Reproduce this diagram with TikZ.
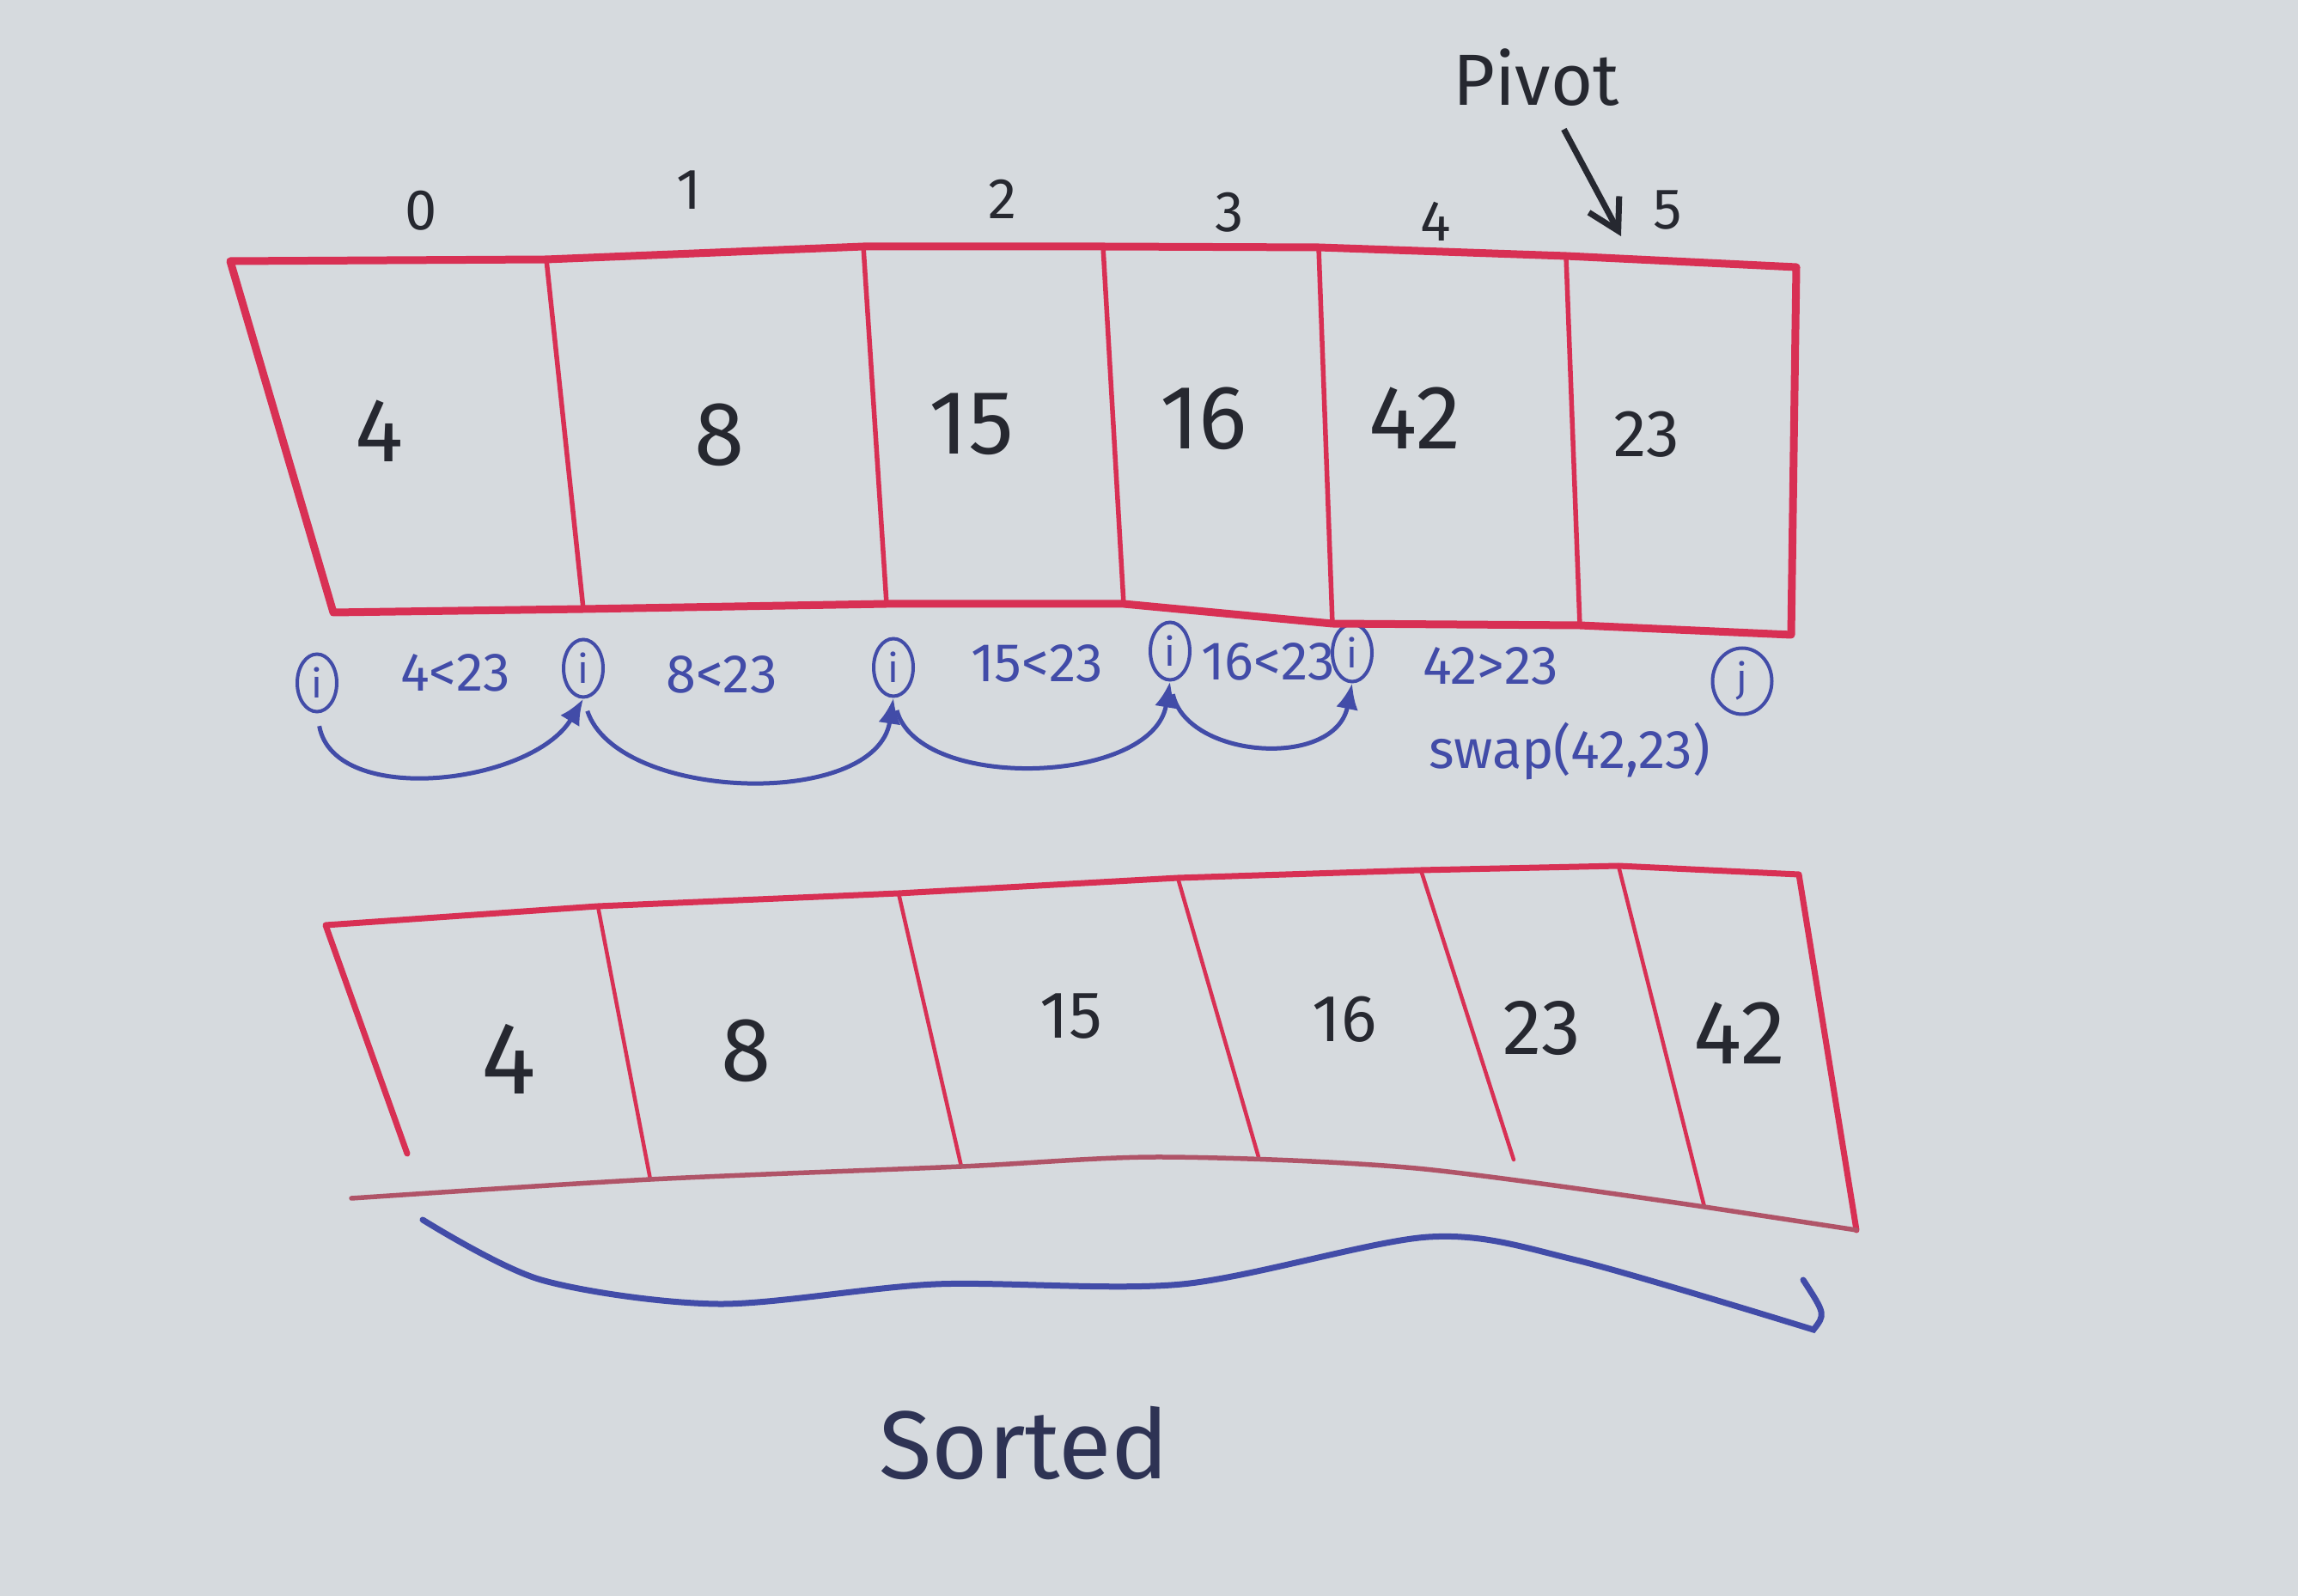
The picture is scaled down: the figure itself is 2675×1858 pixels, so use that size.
\documentclass[tikz,border=0pt]{standalone}
\usepackage{fontspec}
\setmainfont{Fira Sans}
\usetikzlibrary{shapes.geometric, positioning, arrows.meta, calc}

\definecolor{board}{RGB}{214,218,222}
\definecolor{redpen}{RGB}{216,48,84}
\definecolor{bluepen}{RGB}{66,76,168}
\definecolor{blackpen}{RGB}{38,40,48}

\begin{document}
\begin{tikzpicture}[
    x=0.1mm, y=-0.1mm,
    outline/.style={draw=redpen, line width=0.9mm, line join=round, line cap=round},
    divider/.style={draw=redpen, line width=0.55mm, line cap=round},
    val/.style={text=blackpen, font=\fontsize{30}{30}\selectfont, inner sep=0},
    val_small/.style={val, font=\fontsize{22}{22}\selectfont},
    idx/.style={text=blackpen, font=\fontsize{19}{19}\selectfont, inner sep=0},
    ptr/.style={ellipse, draw=bluepen, line width=0.4mm, text=bluepen, minimum width=4.6mm, minimum height=6.7mm, inner sep=0, font=\fontsize{13}{13}\selectfont},
    cmp/.style={text=bluepen, font=\fontsize{18}{18}\selectfont, inner sep=0},
    hop/.style={draw=bluepen, line width=0.5mm, -{Latex[length=3mm, width=2.6mm]}, shorten <=1.5mm},
    arrow/.style={draw=blackpen, line width=0.7mm, -{Straight Barb[length=3.5mm, width=4mm]}},
]

\useasboundingbox[fill=board] (0,0) rectangle (2675,1858);

%% NODES
    % top array corners
    \foreach \k/\ux/\uy/\lx/\ly in {0/268/304/388/713, 1/636/302/679/709, 2/1005/287/1032/703,
        3/1284/287/1308/703, 4/1535/288/1551/726, 5/1823/298/1839/728, 6/2091/311/2085/739} {
        \coordinate (top_up_\k) at (\ux,\uy);
        \coordinate (top_low_\k) at (\lx,\ly);
    }

    % top array values
    \node[val] (top_val_0) at (442,502) {4};
    \node[val] (top_val_1) at (838,506) {8};
    \node[val] (top_val_2) at (1131,494) {15};
    \node[val] (top_val_3) at (1401,487) {16};
    \node[val] (top_val_4) at (1647,487) {42};
    \node[val_small] (top_val_5) at (1917,506) {23};

    % indices
    \node[idx] (idx_0) at (490,245) {0};
    \node[idx] (idx_1) at (802,221) {1};
    \node[idx] (idx_2) at (1167,232) {2};
    \node[idx] (idx_3) at (1431,247) {3};
    \node[idx] (idx_4) at (1671,258) {4};
    \node[idx] (idx_5) at (1941,245) {5};

    % pivot
    \node[idx, font=\fontsize{24}{24}\selectfont] (pivot) at (1788,90) {Pivot};
    \coordinate (pivot_tip) at (1887,275);

    % i and j markers
    \node[ptr] (ptr_i0) at (369,795) {i};
    \node[ptr] (ptr_i1) at (679,778) {i};
    \node[ptr] (ptr_i2) at (1040,777) {i};
    \node[ptr] (ptr_i3) at (1362,758) {i};
    \node[ptr] (ptr_i4) at (1574,760) {i};
    \node[ptr, minimum width=6.9mm, minimum height=7.7mm] (ptr_j) at (2028,793) {j};

    % comparisons
    \node[cmp] (cmp_0) at (530,783) {4<23};
    \node[cmp] (cmp_1) at (840,785) {8<23};
    \node[cmp] (cmp_2) at (1207,772) {15<23};
    \node[cmp] (cmp_3) at (1476,770) {16<23};
    \node[cmp] (cmp_4) at (1735,775) {42>23};
    \node[cmp] (swap) at (1827,875) {swap(42,23)};

    % bottom array corners
    \foreach \k/\ux/\uy/\lx/\ly in {0/379/1077/474/1343, 1/696/1055/757/1373, 2/1046/1040/1119/1358,
        3/1371/1022/1465/1347, 4/1654/1013/1762/1350, 5/1884/1008/1984/1405, 6/2094/1018/2161/1432} {
        \coordinate (bot_up_\k) at (\ux,\uy);
        \coordinate (bot_low_\k) at (\lx,\ly);
    }

    % bottom array values
    \node[val, font=\fontsize{34}{34}\selectfont] (bot_val_0) at (592,1233) {4};
    \node[val] (bot_val_1) at (869,1223) {8};
    \node[val_small] (bot_val_2) at (1247,1183) {15};
    \node[val_small] (bot_val_3) at (1565,1187) {16};
    \node[val, font=\fontsize{26}{26}\selectfont] (bot_val_4) at (1795,1197) {23};
    \node[val] (bot_val_5) at (2025,1203) {42};

    \node[cmp, text=blackpen!70!bluepen, font=\fontsize{32}{32}\selectfont] (sorted) at (1192,1680) {Sorted};

%% CONNECTIONS
    % top array
    \draw[outline] (top_up_0) -- (top_up_1) -- (top_up_2) -- (top_up_3) -- (top_up_4) -- (top_up_5) -- (top_up_6)
        -- (top_low_6) -- (top_low_5) -- (top_low_4) -- (top_low_3) -- (top_low_2) -- (top_low_1) -- (top_low_0) -- cycle;
    \foreach \k in {1,...,5}
        \draw[divider] (top_up_\k) -- (top_low_\k);

    % pivot
    \draw[arrow, shorten <=3mm] (pivot) -- (pivot_tip);

    % i steps
    \draw[hop] (ptr_i0.south) .. controls +(20,110) and +(-60,100) .. (ptr_i1.south);
    \draw[hop] (ptr_i1.south) .. controls +(40,120) and +(-20,130) .. (ptr_i2.south);
    \draw[hop] (ptr_i2.south) .. controls +(30,110) and +(-20,120) .. (ptr_i3.south);
    \draw[hop] (ptr_i3.south) .. controls +(20,90) and +(-20,100) .. (ptr_i4.south);

    % bottom array
    \draw[outline, line width=0.7mm] (bot_low_0) -- (bot_up_0) -- (bot_up_1) -- (bot_up_2) -- (bot_up_3) -- (bot_up_4)
        -- (bot_up_5) -- (bot_up_6) -- (bot_low_6);
    \foreach \k in {1,...,5}
        \draw[divider, line width=0.45mm] (bot_up_\k) -- (bot_low_\k);
    \draw[divider, draw=redpen!55!gray] plot[smooth] coordinates {(409,1395) (bot_low_1) (bot_low_2) (1353,1347) (1648,1360) (bot_low_5)}
        -- (bot_low_6);

    % sorted brace
    \draw[bluepen, line width=0.7mm, line cap=round] plot[smooth] coordinates {(492,1420) (630,1490) (836,1518) (1089,1495)
        (1376,1495) (1663,1440) (1835,1467) (2111,1548)} .. controls (2125,1530) .. (2099,1490);

\end{tikzpicture}
\end{document}
